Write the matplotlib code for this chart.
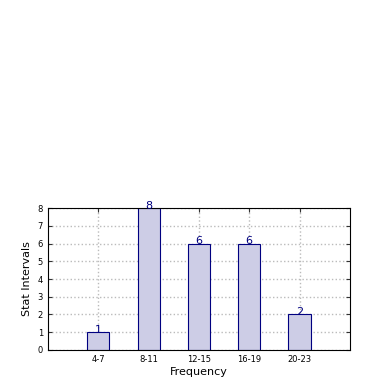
import matplotlib
matplotlib.use('Agg')
import matplotlib.pyplot as plt
import numpy as np

categories = ['4-7', '8-11', '12-15', '16-19', '20-23']
counts = [1, 8, 6, 6, 2]


def main():
    fig = plt.figure(figsize=(3.9, 3.9), dpi=100)
    ax = fig.add_axes([0.123, 0.1026, 0.774, 0.364])

    x = np.arange(1, len(categories) + 1)
    bars = ax.bar(x, counts, 0.44, color='#cdcde6', edgecolor='#000080', linewidth=0.8, zorder=2)

    for rect, c in zip(bars, counts):
        ax.annotate(str(c), (rect.get_x() + rect.get_width() / 2, rect.get_height()),
                    xytext=(0, -2), textcoords='offset points',
                    ha='center', va='bottom', color='#000080', fontsize=8, zorder=3,
                    annotation_clip=False)

    ax.set_xlim(0, 6)
    ax.set_ylim(0, 8)
    ax.set_xticks(x)
    ax.set_xticklabels(categories)
    ax.set_yticks(range(0, 9))
    ax.tick_params(direction='in', labelsize=6, length=3, top=True, right=True, colors='#333333')
    ax.tick_params(labelcolor='black')
    ax.grid(True, linestyle=':', color='#bbbbbb', linewidth=1, zorder=0)
    ax.set_axisbelow(True)
    for s in ax.spines.values():
        s.set_linewidth(0.8)

    ax.set_xlabel('Frequency', fontsize=8, labelpad=2)
    ax.set_ylabel('Stat Intervals', fontsize=8, labelpad=4)

    fig.savefig('out.png', dpi=100)


if __name__ == '__main__':
    main()
